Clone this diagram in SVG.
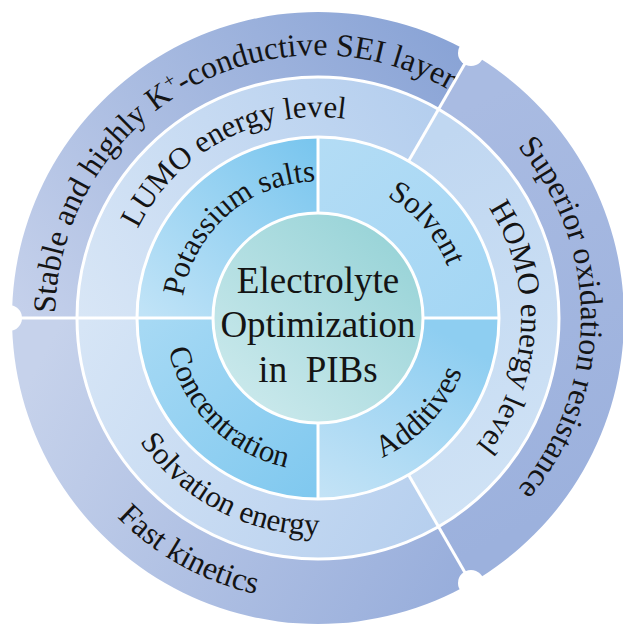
<svg xmlns="http://www.w3.org/2000/svg" width="623" height="624" viewBox="0 0 623 624">
<style>
  .lbl { font-family: "Liberation Serif", "Times New Roman", serif; font-size: 31px; fill: #141414; }
  .outer { font-size: 32px; }
  .ctr { font-family: "Liberation Serif", "Times New Roman", serif; font-size: 37px; fill: #141414; text-anchor: middle; white-space: pre; }
  .sep { stroke: #ffffff; stroke-width: 3; fill: none; }
</style>
<defs>
  <linearGradient id="gOTL" gradientUnits="userSpaceOnUse" x1="30" y1="380" x2="460" y2="60">
    <stop offset="0" stop-color="#c8d3ec"/><stop offset="1" stop-color="#8aa4d6"/>
  </linearGradient>
  <linearGradient id="gOR" gradientUnits="userSpaceOnUse" x1="440" y1="120" x2="620" y2="480">
    <stop offset="0" stop-color="#a9bbe2"/><stop offset="1" stop-color="#9cb1dd"/>
  </linearGradient>
  <linearGradient id="gOB" gradientUnits="userSpaceOnUse" x1="40" y1="360" x2="470" y2="590">
    <stop offset="0" stop-color="#c6d2eb"/><stop offset="1" stop-color="#97addb"/>
  </linearGradient>
  <linearGradient id="gMTL" gradientUnits="userSpaceOnUse" x1="80" y1="318" x2="440" y2="110">
    <stop offset="0" stop-color="#d8e6f6"/><stop offset="1" stop-color="#b4ceee"/>
  </linearGradient>
  <linearGradient id="gMR" gradientUnits="userSpaceOnUse" x1="410" y1="150" x2="560" y2="470">
    <stop offset="0" stop-color="#c0d7f1"/><stop offset="1" stop-color="#cfe2f5"/>
  </linearGradient>
  <linearGradient id="gMB" gradientUnits="userSpaceOnUse" x1="80" y1="330" x2="440" y2="530">
    <stop offset="0" stop-color="#d6e5f6"/><stop offset="1" stop-color="#b6cfee"/>
  </linearGradient>
  <linearGradient id="gIK" gradientUnits="userSpaceOnUse" x1="150" y1="320" x2="318" y2="140">
    <stop offset="0" stop-color="#c0e3f7"/><stop offset="1" stop-color="#78c5ee"/>
  </linearGradient>
  <linearGradient id="gIS" gradientUnits="userSpaceOnUse" x1="318" y1="140" x2="499" y2="318">
    <stop offset="0" stop-color="#b3dcf5"/><stop offset="1" stop-color="#a3d6f4"/>
  </linearGradient>
  <linearGradient id="gIC" gradientUnits="userSpaceOnUse" x1="150" y1="320" x2="318" y2="499">
    <stop offset="0" stop-color="#a6d9f4"/><stop offset="1" stop-color="#7fc8ef"/>
  </linearGradient>
  <linearGradient id="gIA" gradientUnits="userSpaceOnUse" x1="420" y1="320" x2="318" y2="499">
    <stop offset="0" stop-color="#8ecef1"/><stop offset="1" stop-color="#c4e3f6"/>
  </linearGradient>
  <linearGradient id="gC" gradientUnits="userSpaceOnUse" x1="400" y1="230" x2="240" y2="410">
    <stop offset="0" stop-color="#97d3d7"/><stop offset="1" stop-color="#cbe9ec"/>
  </linearGradient>
  <path id="pStable" d="M 78.7 427.1 A 263 263 0 0 1 534.7 169"/>
  <path id="pSuperior" d="M 340.9 56 A 263 263 0 0 1 340.9 580"/>
  <path id="pFast" d="M 59.5 202.9 A 283 283 0 0 0 552.6 476.3"/>
  <path id="pLUMO" d="M 133 396.5 A 201 201 0 0 1 486.6 208.5"/>
  <path id="pHOMO" d="M 346.3 117 A 203 203 0 0 1 325.1 520.9"/>
  <path id="pSolv" d="M 117.5 235 A 217 217 0 0 0 501 434.6"/>
  <path id="pK" d="M 207.2 398.5 A 137 137 0 0 1 413.2 219.5"/>
  <path id="pSolvent" d="M 236.3 205.5 A 139 139 0 0 1 418 414.6"/>
  <path id="pConc" d="M 200.8 219.7 A 153 153 0 0 0 416.3 435.2"/>
  <path id="pAdd" d="M 223.2 439.4 A 154 154 0 0 0 432.4 215"/>
</defs>

<g id="outer-sei">
  <path d="M 12 318 A 306 306 0 0 1 471 53 L 438.5 109.3 A 241 241 0 0 0 77 318 Z" fill="url(#gOTL)"/>
  <text class="lbl outer"><textPath href="#pStable" startOffset="50%" text-anchor="middle">Stable and highly K<tspan dy="-11" font-size="20">+</tspan><tspan dy="11">-conductive SEI layer</tspan></textPath></text>
</g>
<g id="outer-oxidation">
  <path d="M 471 53 A 306 306 0 0 1 471 583 L 438.5 526.7 A 241 241 0 0 0 438.5 109.3 Z" fill="url(#gOR)"/>
  <text class="lbl outer"><textPath href="#pSuperior" startOffset="50%" text-anchor="middle">Superior oxidation resistance</textPath></text>
</g>
<g id="outer-kinetics">
  <path d="M 471 583 A 306 306 0 0 1 12 318 L 77 318 A 241 241 0 0 0 438.5 526.7 Z" fill="url(#gOB)"/>
  <text class="lbl outer"><textPath href="#pFast" startOffset="50%" text-anchor="middle">Fast kinetics</textPath></text>
</g>

<g id="mid-lumo">
  <path d="M 77 318 A 241 241 0 0 1 438.5 109.3 L 408.5 161.25 A 181 181 0 0 0 137 318 Z" fill="url(#gMTL)"/>
  <text class="lbl"><textPath href="#pLUMO" startOffset="50%" text-anchor="middle">LUMO energy level</textPath></text>
</g>
<g id="mid-homo">
  <path d="M 438.5 109.3 A 241 241 0 0 1 438.5 526.7 L 408.5 474.75 A 181 181 0 0 0 408.5 161.25 Z" fill="url(#gMR)"/>
  <text class="lbl"><textPath href="#pHOMO" startOffset="50%" text-anchor="middle">HOMO energy level</textPath></text>
</g>
<g id="mid-solvation">
  <path d="M 438.5 526.7 A 241 241 0 0 1 77 318 L 137 318 A 181 181 0 0 0 408.5 474.75 Z" fill="url(#gMB)"/>
  <text class="lbl"><textPath href="#pSolv" startOffset="50%" text-anchor="middle">Solvation energy</textPath></text>
</g>

<g id="inner-salts">
  <path d="M 137 318 A 181 181 0 0 1 318 137 L 318 213 A 105 105 0 0 0 213 318 Z" fill="url(#gIK)"/>
  <text class="lbl"><textPath href="#pK" startOffset="50%" text-anchor="middle">Potassium salts</textPath></text>
</g>
<g id="inner-solvent">
  <path d="M 318 137 A 181 181 0 0 1 499 318 L 423 318 A 105 105 0 0 0 318 213 Z" fill="url(#gIS)"/>
  <text class="lbl"><textPath href="#pSolvent" startOffset="50%" text-anchor="middle">Solvent</textPath></text>
</g>
<g id="inner-additives">
  <path d="M 499 318 A 181 181 0 0 1 318 499 L 318 423 A 105 105 0 0 0 423 318 Z" fill="url(#gIA)"/>
  <text class="lbl"><textPath href="#pAdd" startOffset="50%" text-anchor="middle">Additives</textPath></text>
</g>
<g id="inner-concentration">
  <path d="M 318 499 A 181 181 0 0 1 137 318 L 213 318 A 105 105 0 0 0 318 423 Z" fill="url(#gIC)"/>
  <text class="lbl"><textPath href="#pConc" startOffset="50%" text-anchor="middle">Concentration</textPath></text>
</g>

<g id="connectors">
  <circle class="sep" cx="318" cy="318" r="241"/>
  <circle class="sep" cx="318" cy="318" r="181"/>
  <line class="sep" x1="10" y1="318" x2="213" y2="318"/>
  <line class="sep" x1="423" y1="318" x2="499" y2="318"/>
  <line class="sep" x1="318" y1="137" x2="318" y2="213"/>
  <line class="sep" x1="318" y1="423" x2="318" y2="499"/>
  <line class="sep" x1="408.5" y1="161.25" x2="471" y2="53"/>
  <line class="sep" x1="408.5" y1="474.75" x2="471" y2="583"/>
  <circle cx="9" cy="318" r="13" fill="#ffffff"/>
  <circle cx="471" cy="53" r="13" fill="#ffffff"/>
  <circle cx="471" cy="583" r="13" fill="#ffffff"/>
</g>

<g id="center">
  <circle cx="318" cy="318" r="105" fill="url(#gC)" stroke="#ffffff" stroke-width="3"/>
  <text class="ctr" x="318" y="293">Electrolyte</text>
  <text class="ctr" x="318" y="337">Optimization</text>
  <text class="ctr" x="318" y="382">in  PIBs</text>
</g>
</svg>
